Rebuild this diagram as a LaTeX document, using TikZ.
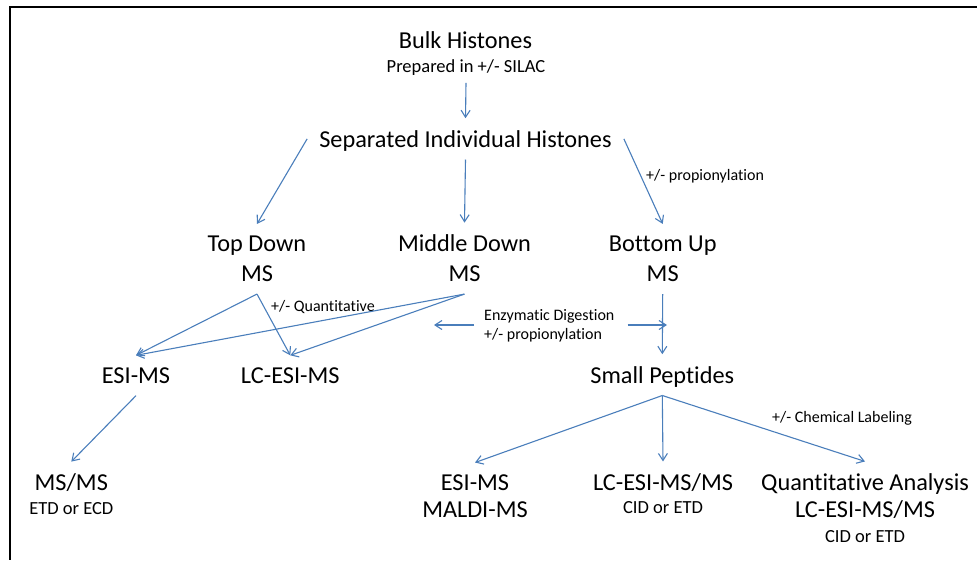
\documentclass[tikz,border=0pt]{standalone}
\usepackage{fontspec}
\setmainfont{Carlito}[Ligatures=NoCommon]
\usetikzlibrary{positioning, arrows.meta, calc}
\definecolor{linkblue}{HTML}{4A7EBB}
\newcommand{\subsize}{\fontsize{18.5}{22}\selectfont}

\begin{document}
\begin{tikzpicture}[
  x=1pt, y=-1pt,
  >={Straight Barb[length=7pt, width=9pt]},
  big/.style  = {font=\fontsize{24.3}{30}\selectfont, align=center, anchor=base, inner sep=12pt},
  sub/.style  = {font=\subsize, align=center, anchor=base, inner sep=10pt},
  note/.style = {font=\fontsize{16}{19}\selectfont, align=left, anchor=base west, inner sep=0pt},
  arr/.style  = {->, linkblue, line width=1.1pt},
]
  \useasboundingbox (0,0) rectangle (977,560);
  \draw[line width=2pt] (977,6.5) -- (9.5,6.5) -- (9.5,560);

  % Sample prep and the three MS routes (multi-line nodes sit on their last baseline)
  \node[big]                 (bulk) at (465.5,48.3)  {Bulk Histones};
  \node[sub, text depth=0pt] (prep) at (466,72.7)    {Prepared in +/- SILAC};
  \node[big, text depth=0pt] (sep)  at (465.5,147.3) {Separated Individual Histones};
  \node[big]                 (td)   at (257,281.7)   {Top Down\\MS};
  \node[big]                 (md)   at (464.5,281.7) {Middle Down\\MS};
  \node[big]                 (bu)   at (662.7,281.7) {Bottom Up\\MS};

  % Instruments
  \node[big]                 (esi)  at (136,383.3)   {ESI-MS};
  \node[big]                 (lc)   at (290.3,383.3) {LC-ESI-MS};
  \node[big, text depth=0pt] (sp)   at (662.3,383.3) {Small Peptides};
  \node[big]                 (msms) at (71.3,514.3)  {MS/MS\\[-6.4pt]{\subsize ETD or ECD}};
  \node[big]                 (esi2) at (475,517.5)   {ESI-MS\\[-3pt]MALDI-MS};
  \node[big]                 (lcms) at (663,513.5)   {LC-ESI-MS/MS\\[-7pt]{\subsize CID or ETD}};
  \node[big]                 (qa)   at (865,542.3)   {Quantitative Analysis\\[-3pt]LC-ESI-MS/MS\\[-5.2pt]{\subsize CID or ETD}};

  % Edge notes
  \node[note] (prop)  at (646,180)     {+/- propionylation};
  \node[note] (quant) at (271,311)     {+/- Quantitative};
  \node[note] (enz)   at (484,339.7)   {Enzymatic Digestion\\+/- propionylation};
  \node[note] (chem)  at (772,422.7)   {+/- Chemical Labeling};

  \foreach \a/\b in {prep.south/sep.north, sep.west/td.north, sep.south/md.north, sep.east/bu.north,
                     td.south/esi.north, td.south/lc.north, md.south/esi.north, md.south/lc.north,
                     esi.south/msms.north, bu.south/sp.north,
                     sp.south/esi2.north, sp.south/lcms.north, sp.south/qa.north}
     \draw[arr] (\a) -- (\b);

  \coordinate (digL) at (434,325);
  \coordinate (digR) at (667,325);
  \draw[arr, shorten <=10pt] (enz.west |- digL) -- (digL);
  \draw[arr, shorten <=13pt] (enz.east |- digR) -- (digR);
\end{tikzpicture}
\end{document}
